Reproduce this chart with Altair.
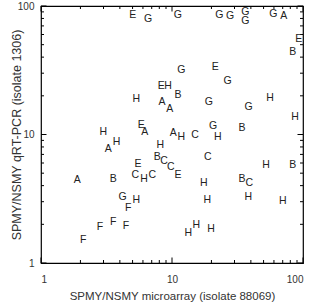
import altair as alt
import pandas as pd

# Letters and their (x, y) values
letters = ["E","G","G","G","G","G","G","G","A","E","B","G","E","G","E","H","B","H","A","A",
           "G","H","G","H","E","A","A","H","C","G","H","B","H","A","H","H","B","C","C","E",
           "C","E","C","H","C","H","H","H","H","B","B","C","H","H","H","H","H","A","B","G",
           "F","F","F","F","F"]
xs = [5.01,6.56,11.1,22.96,27.7,36.3,36.3,59.3,71.2,92.7,83.4,11.8,21.4,26.6,8.29,9.32,11.1,5.34,8.39,9.60,
      19.1,56.0,38.5,86.9,5.83,6.19,10.2,11.8,15.0,20.6,22.4,34.2,2.99,3.26,3.78,8.14,7.72,8.69,9.77,11.1,
      18.8,5.50,5.25,6.11,7.07,17.5,18.6,5.34,52.2,83.4,34.2,38.9,38.2,70.0,15.3,13.3,19.9,1.89,3.56,4.20,
      4.64,2.82,3.56,4.46,2.10]
ys = [85.1,79.2,85.1,85.1,83.6,90.3,76.8,86.6,83.6,55.1,44.1,31.8,33.7,26.2,23.8,23.8,20.3,18.9,18.0,15.7,
      17.9,19.1,16.5,13.6,11.9,10.5,10.2,9.56,10.0,11.6,9.61,11.2,10.5,7.71,8.79,8.29,6.65,6.25,5.56,4.84,
      6.72,5.89,4.84,4.48,4.84,4.22,3.09,3.09,5.79,5.79,4.48,4.22,3.29,3.06,1.98,1.70,1.84,4.43,4.48,3.28,
      2.67,1.92,2.10,1.94,1.51]

major_ticks = [1, 10, 100]
minor_ticks = [2, 3, 4, 5, 6, 7, 8, 9, 20, 30, 40, 50, 60, 70, 80, 90]

x_title = "SPMY/NSMY microarray (isolate 88069)"
y_title = "SPMY/NSMY qRT-PCR (isolate 1306)"

W, H = 262, 257
FONT = "Liberation Sans"

pts = pd.DataFrame({"letter": letters, "x": xs, "y": ys})
maj = pd.DataFrame({"v": major_ticks})
mnr = pd.DataFrame({"v": minor_ticks})

xscale = alt.Scale(type="log", domain=[1, 100], nice=False)
yscale = alt.Scale(type="log", domain=[1, 100], nice=False)

xaxis = alt.Axis(values=major_ticks, format="d", ticks=False, tickSize=0, domain=False, grid=False,
                 labelFontSize=10, labelFont=FONT, labelColor="#333", labelPadding=11,
                 titleFont=FONT, titleFontSize=11.5, titleFontWeight="normal", titleColor="#333",
                 titleY=33.5, titleBaseline="middle")
yaxis = alt.Axis(values=major_ticks, format="d", ticks=False, tickSize=0, domain=False, grid=False,
                 labelFontSize=10, labelFont=FONT, labelColor="#333", labelPadding=7,
                 titleFont=FONT, titleFontSize=12.5, titleFontWeight="normal", titleColor="#333",
                 titleX=-24.5, titleY=H / 2, titleBaseline="middle", titleAngle=-90)


def X(field):
    return alt.X(f"{field}:Q", scale=xscale, axis=xaxis, title=x_title)


def Y(field):
    return alt.Y(f"{field}:Q", scale=yscale, axis=yaxis, title=y_title)


text = alt.Chart(pts).mark_text(font=FONT, fontSize=10.5, color="#222").encode(
    x=X("x"), y=Y("y"), text="letter:N"
)


def tick_layers(df, length):
    rule = lambda: alt.Chart(df).mark_rule(color="#000", strokeWidth=1)
    return [
        rule().encode(x=X("v"), y=alt.value(H), y2=alt.value(H - length)),
        rule().encode(x=X("v"), y=alt.value(0), y2=alt.value(length)),
        rule().encode(y=Y("v"), x=alt.value(0), x2=alt.value(length)),
        rule().encode(y=Y("v"), x=alt.value(W), x2=alt.value(W - length)),
    ]


layers = tick_layers(maj, 5.5) + tick_layers(mnr, 3) + [text]

chart = alt.layer(*layers).properties(
    width=W, height=H,
    autosize=alt.AutoSizeParams(type="none"),
    padding={"left": 41, "top": 6, "right": 9, "bottom": 43},
    background="white",
).configure_view(stroke="#000", strokeWidth=1.2)

chart.save("out.html", embed_options={"renderer": "svg", "actions": False})
